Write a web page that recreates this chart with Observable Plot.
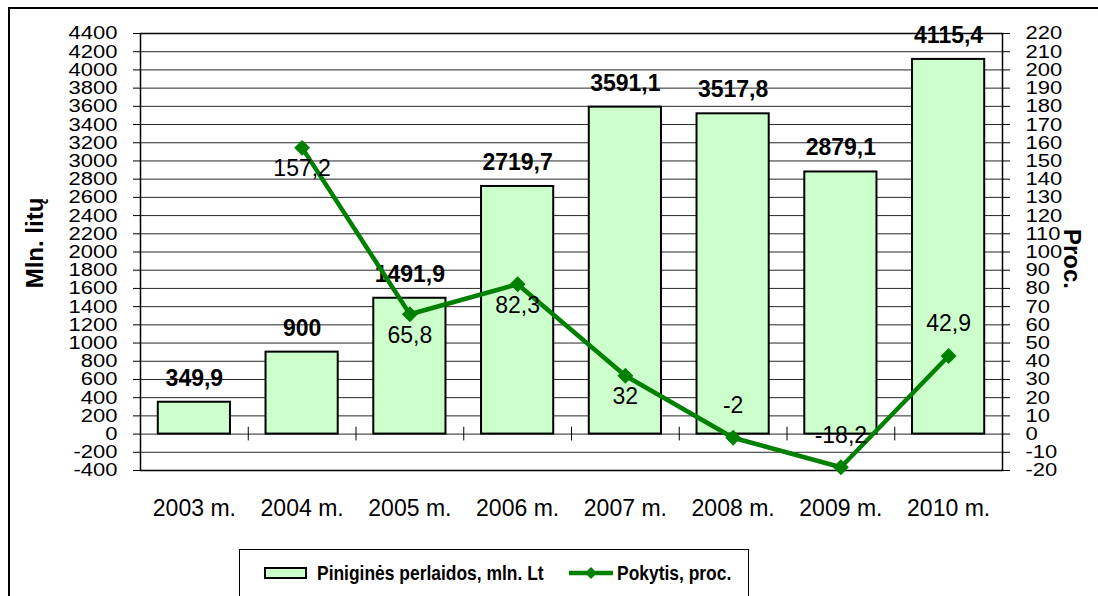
<!DOCTYPE html>
<html>
<head>
<meta charset="utf-8">
<script src="https://cdn.jsdelivr.net/npm/d3@7"></script>
<script src="https://cdn.jsdelivr.net/npm/@observablehq/plot@0.6"></script>
<style>
  html, body { margin: 0; padding: 0; background: #fff; }
  #wrap { position: relative; width: 1098px; height: 596px; overflow: hidden; font-family: "Liberation Sans", Arial, sans-serif; color: #000; }
  #outer { position: absolute; left: 8px; top: 7px; width: 1200px; height: 700px; border: 2px solid #000; box-sizing: border-box; }
  #chart svg { position: absolute; left: 0; top: 0; }
  .ytitle { position: absolute; font-weight: bold; font-size: 24px; white-space: nowrap; }
  #legend { position: absolute; left: 239px; top: 549px; width: 510px; height: 100px; border: 1px solid #000; box-sizing: border-box; background: #fff; }
  .lg { position: absolute; font-weight: bold; font-size: 21px; white-space: nowrap; transform: scaleX(0.83); transform-origin: left center; line-height: 24px; }
</style>
</head>
<body>
<div id="wrap">
  <div id="outer"></div>
  <div id="chart"></div>
  <div class="ytitle" id="ytl" style="left:35px; top:243px; transform: translate(-50%,-50%) rotate(-90deg);">Mln. litų</div>
  <div class="ytitle" id="ytr" style="left:1072px; top:259px; transform: translate(-50%,-50%) rotate(90deg);">Proc.</div>
  <div id="legend"></div>
</div>
<script>
// ---- data ----
const years = ["2003 m.", "2004 m.", "2005 m.", "2006 m.", "2007 m.", "2008 m.", "2009 m.", "2010 m."];
const transfers = [349.9, 900, 1491.9, 2719.7, 3591.1, 3517.8, 2879.1, 4115.4];
const change = [null, 157.2, 65.8, 82.3, 32, -2, -18.2, 42.9];
const changeLabelPos = [null, "below", "below", "below", "below", "above", "above", "above"];
const leftTicks = d3.range(-400, 4401, 200);
const rightTicks = d3.range(-20, 221, 10);
const seriesNames = ["Piniginės perlaidos, mln. Lt", "Pokytis, proc."];

// ---- layout ----
const W = 1098, H = 530;
const ML = 140, MR = 96, MT = 33, MB = H - 470;
const K = 20; // right axis (proc.) -> left axis (mln. litų) factor
const barFill = "#CCFFCC", lineColor = "#008000";
const fmt = v => String(v).replace(".", ",");
const step = (W - ML - MR) / 8;

const bars = years.map((y, i) => ({year: y, value: transfers[i]}));
const pts = years.map((y, i) => ({year: y, pct: change[i], pos: changeLabelPos[i]})).filter(d => d.pct !== null);

const svg = Plot.plot({
  width: W, height: H,
  marginLeft: ML, marginRight: MR, marginTop: MT, marginBottom: MB,
  style: {fontFamily: "'Liberation Sans', Arial, sans-serif", fontSize: "22px", color: "#000", background: "transparent", overflow: "visible"},
  x: {domain: years, paddingInner: 0.33, paddingOuter: 0.165, round: false, axis: null},
  y: {domain: [-400, 4400], axis: null},
  marks: [
    Plot.gridY(leftTicks, {stroke: "#000", strokeOpacity: 0.85, strokeWidth: 1}),
    Plot.frame({stroke: "#000", strokeWidth: 1.5}),
    Plot.barY(bars, {x: "year", y: "value", fill: barFill, stroke: "#000", strokeWidth: 2}),
    Plot.ruleX(years.slice(1), {x: d => d, y1: -75, y2: 75, dx: -step / 2, stroke: "#000", strokeWidth: 1}),
    Plot.axisY(leftTicks, {anchor: "left", tickSize: 7, tickPadding: 16, fontSize: 22, label: null, tickFormat: d => String(d)}),
    Plot.axisY(rightTicks.map(v => v * K), {anchor: "right", tickSize: 7, tickPadding: 16, fontSize: 22, label: null, tickFormat: d => String(Math.round(d / K))}),
    Plot.axisX(years, {anchor: "bottom", tickSize: 0, tickPadding: 29, fontSize: 23, label: null}),
    Plot.text(bars, {x: "year", y: "value", text: d => fmt(d.value), dy: -24, fontWeight: "bold", fontSize: 23}),
    Plot.line(pts, {x: "year", y: d => d.pct * K, stroke: lineColor, strokeWidth: 4.5}),
    Plot.dot(pts, {x: "year", y: d => d.pct * K, symbol: "square", rotate: 45, r: 5.5, fill: lineColor, stroke: lineColor}),
    Plot.text(pts, {filter: d => d.pos === "below", x: "year", y: d => d.pct * K, text: d => fmt(d.pct), dy: 21, fontSize: 23}),
    Plot.text(pts, {filter: d => d.pos === "above", x: "year", y: d => d.pct * K, text: d => fmt(d.pct), dy: -32, fontSize: 23})
  ]
});
document.getElementById("chart").appendChild(svg);

// vertically condense y tick labels like the original
d3.select(svg).selectAll('[aria-label="y-axis tick label"] text').each(function () {
  const t = this.getAttribute("transform");
  if (t) this.setAttribute("transform", t + " scale(1,0.85)");
  else {
    const x = this.getAttribute("x") || 0, y = this.getAttribute("y") || 0;
    this.removeAttribute("x"); this.removeAttribute("y");
    this.setAttribute("transform", `translate(${x},${y}) scale(1,0.85)`);
  }
});

// ---- legend ----
const lg = d3.select("#legend");
lg.append("div").style("position", "absolute").style("left", "24px").style("top", "17px")
  .style("width", "43px").style("height", "12px").style("background", barFill)
  .style("border", "2px solid #000").style("box-sizing", "border-box");
lg.append("div").attr("class", "lg").style("left", "77px").style("top", "11px").text(seriesNames[0]);
const ls = lg.append("svg").attr("width", 50).attr("height", 20).style("position", "absolute").style("left", "327px").style("top", "13px");
ls.append("line").attr("x1", 2).attr("x2", 46).attr("y1", 10).attr("y2", 10).attr("stroke", lineColor).attr("stroke-width", 4.5);
ls.append("path").attr("d", "M24,4 L30,10 L24,16 L18,10 Z").attr("fill", lineColor);
lg.append("div").attr("class", "lg").style("left", "377px").style("top", "11px").text(seriesNames[1]);
</script>
</body>
</html>
